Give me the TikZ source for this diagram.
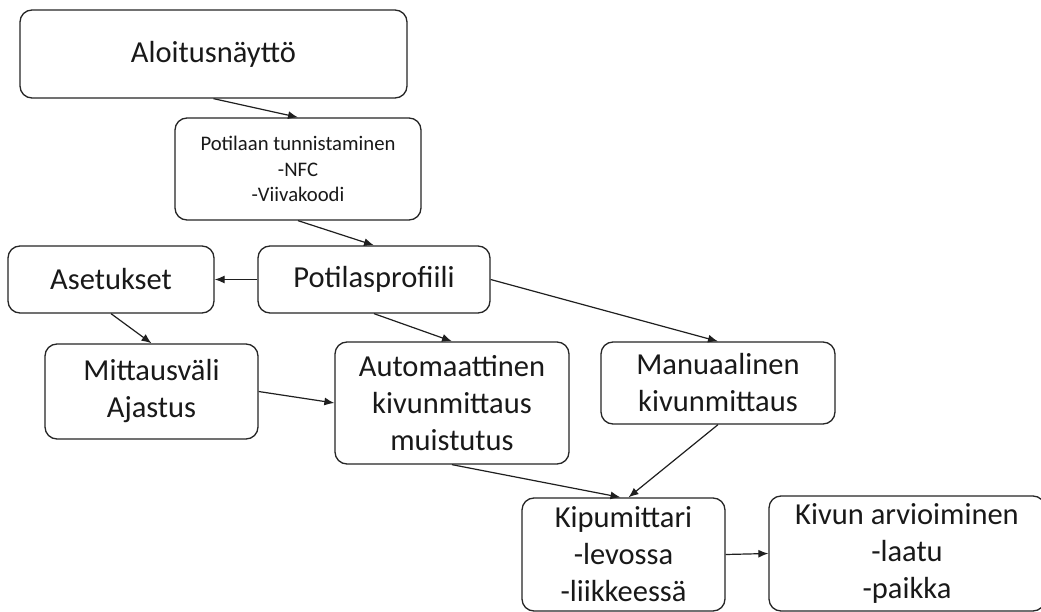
\documentclass[tikz,border=0pt]{standalone}
\usepackage{fontspec}
\setmainfont{Carlito}
\usetikzlibrary{arrows.meta}
\begin{document}
\begin{tikzpicture}[x=1pt,y=-1pt,
  box/.style={draw=black!85, line width=1.3pt, rounded corners=12pt,
    align=center, inner sep=0pt, text=black!90},
  bigtext/.style={font=\fontsize{30.5}{37}\selectfont},
  smalltext/.style={font=\fontsize{20.7}{25.3}\selectfont},
  link/.style={draw=black!88, line width=1.2pt,
    -{Latex[length=10pt,width=8pt]}}]
  \useasboundingbox (0,0) rectangle (1041,612);
  \clip (0,0) rectangle (1041,612);
  \fill[white] (0,0) rectangle (1041,612);

  % screens of the application
  \node[box, bigtext, minimum width=387, minimum height=88] (A) at (213.5,54) {Aloitusnäyttö};
  \node[box, smalltext, minimum width=246, minimum height=102] (B) at (298,169)
    {Potilaan tunnistaminen\\-NFC\\-Viivakoodi};
  \node[box, bigtext, minimum width=206, minimum height=67] (C) at (111,279.5) {Asetukset};
  \node[box, bigtext, minimum width=232, minimum height=67] (D) at (374,279.5) {Potilasprofiili};
  \node[box, bigtext, minimum width=213, minimum height=95] (E) at (151.5,391.5)
    {Mittausväli\\Ajastus};
  \node[box, bigtext, minimum width=234, minimum height=122] (F) at (452,403)
    {Automaattinen\\kivunmittaus\\muistutus};
  \node[box, bigtext, minimum width=234, minimum height=82] (G) at (718,383)
    {Manuaalinen\\kivunmittaus};
  \node[box, bigtext, minimum width=203, minimum height=113] (H) at (623.5,554.5)
    {Kipumittari\\-levossa\\-liikkeessä};
  \node[box, bigtext, minimum width=276, minimum height=115] (I) at (907,553.5)
    {Kivun arvioiminen\\-laatu\\-paikka};

  % navigation between screens
  \draw[link] (A.south) -- (B.north);
  \draw[link] (B.south) -- (D.north);
  \draw[link] (D.west) -- (C.east);
  \draw[link] (C.south) -- (E.north);
  \draw[link] (D.south) -- (F.north);
  \draw[link] (D.east) -- (G.north);
  \draw[link] (E.east) -- (F.west);
  \draw[link] (F.south) -- ([xshift=-3pt]H.north);
  \draw[link] (G.south) -- ([xshift=5pt]H.north);
  \draw[link] (H.east) -- (I.west);
\end{tikzpicture}
\end{document}
